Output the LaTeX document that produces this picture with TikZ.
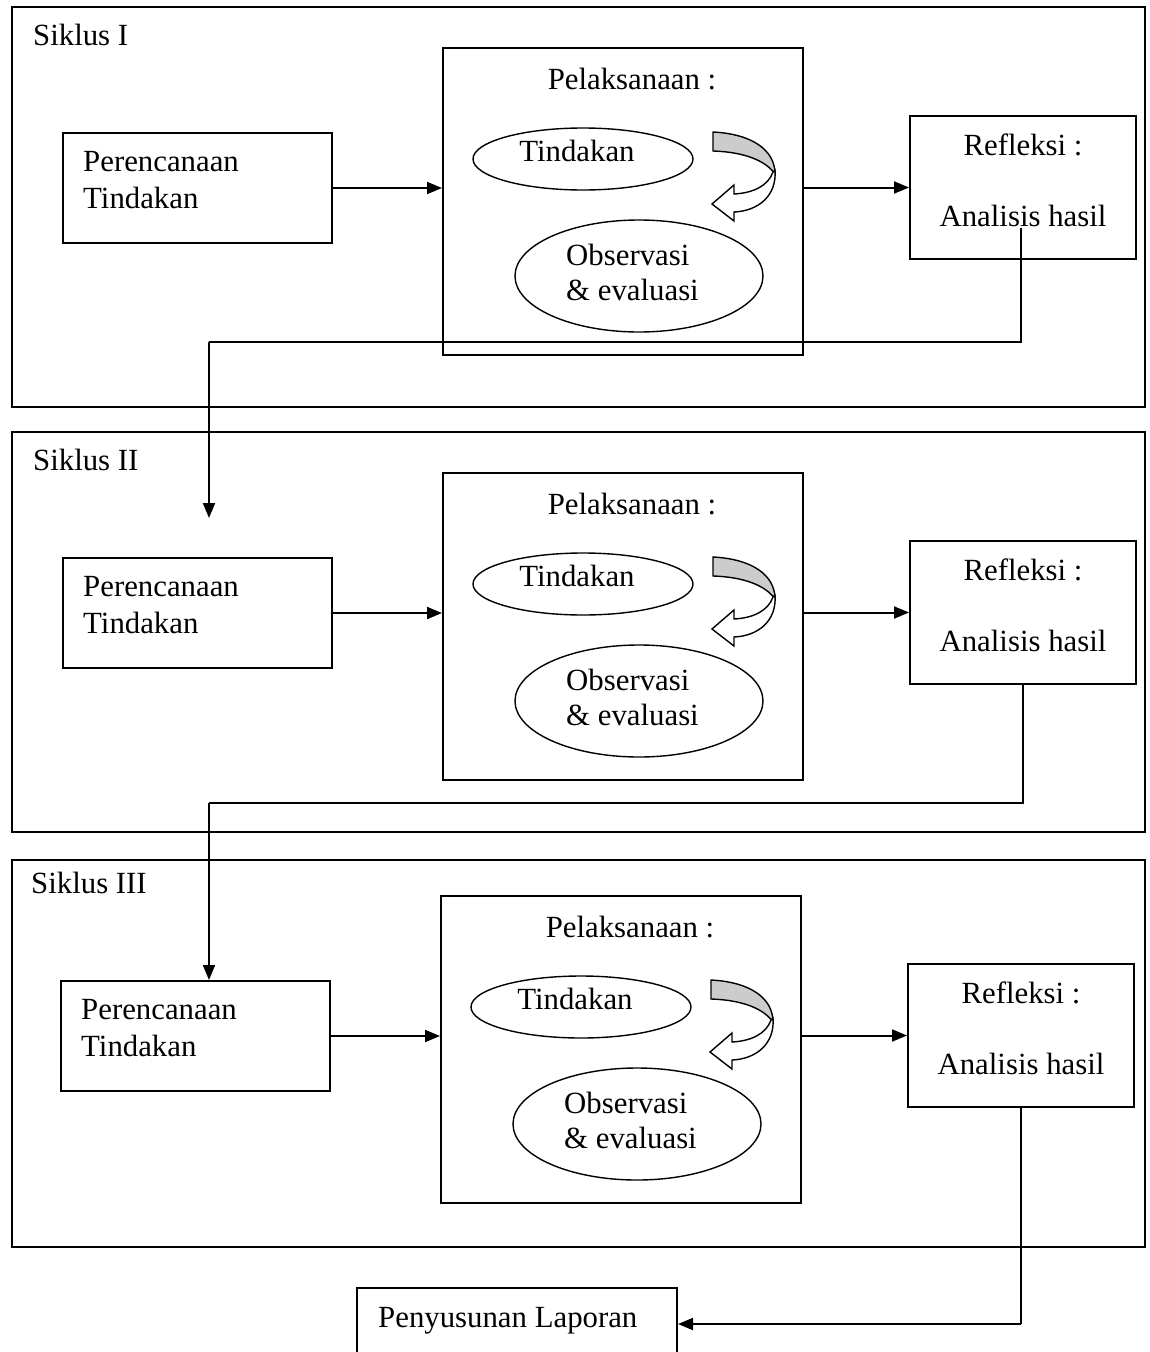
\documentclass[tikz,border=0pt]{standalone}
\usepackage{fontspec}
\setmainfont{Liberation Serif}
\usetikzlibrary{arrows.meta,shapes.geometric}
\tikzset{
  box/.style={draw, line width=2pt, rectangle, inner sep=0pt},
  oval/.style={draw, line width=1.4pt, ellipse, inner sep=0pt},
  txt/.style={inner sep=0pt, font=\fontsize{30.8}{36}\selectfont},
  arr/.style={line width=2pt, -{Triangle[length=15pt,width=12pt]}},
  conn/.style={line width=2pt},
}
\newcommand\mycycle[4]{% #1 suffix, #2 xshift, #3 yshift, #4 label
\begin{scope}[shift={(#2,#3)}]
  \node[txt, anchor=base west] (sik#1) at (33,45) {#4};
  \node[box, minimum width=269pt, minimum height=110pt] (per#1) at (197.5,188) {};
  \node[txt, anchor=base west] (pera#1) at (83,171) {Perencanaan};
  \node[txt, anchor=base west] (perb#1) at (83,208) {Tindakan};
  \node[box, minimum width=360pt, minimum height=307pt] (pel#1) at (623,201.5) {};
  \node[txt, anchor=base] (pelt#1) at (632,89) {Pelaksanaan :};
  \node[oval, minimum width=220pt, minimum height=62pt] (tin#1) at (583,159) {};
  \node[txt, anchor=base] (tint#1) at (577,161) {Tindakan};
  \node[oval, minimum width=248pt, minimum height=112pt] (obs#1) at (639,276) {};
  \node[txt, anchor=base west] (obsa#1) at (566,265) {Observasi};
  \node[txt, anchor=base west] (obsb#1) at (566,300) {\& evaluasi};
  \node[box, minimum width=226pt, minimum height=143pt] (ref#1) at (1023,187.5) {};
  \node[txt, anchor=base] (refa#1) at (1023,155) {Refleksi :};
  \node[txt, anchor=base] (refb#1) at (1023,226) {Analisis hasil};
  \draw[line width=1.4pt, fill=gray!40]
    (713,132) .. controls (752,134) and (775,150) .. (775,174)
    .. controls (766,161) and (745,152) .. (713,151) -- cycle;
  \draw[line width=1.4pt, fill=white]
    (775,170) .. controls (777,196) and (758,211) .. (734,212)
    -- (734,221) -- (712,204) -- (734,185) -- (734,194)
    .. controls (753,193) and (768,186) .. (773,172) -- cycle;
  \draw[arr] (per#1.east) -- (per#1.east -| pel#1.west);
  \draw[arr] (ref#1.west -| pel#1.east) -- (ref#1.west);
\end{scope}}
\begin{document}
\begin{tikzpicture}[x=1pt, y=-1pt]
  \useasboundingbox (0,0) rectangle (1150,1352);
  \fill[white] (0,0) rectangle (1150,1352);
  % outer frames
  \node[box, minimum width=1133pt, minimum height=400pt] (frame1) at (578.5,207) {};
  \node[box, minimum width=1133pt, minimum height=400pt] (frame2) at (578.5,632) {};
  \node[box, minimum width=1133pt, minimum height=387pt] (frame3) at (578.5,1053.5) {};
  \mycycle{1}{0}{0}{Siklus I}
  \mycycle{2}{0}{425}{Siklus II}
  \mycycle{3}{-2}{848}{Siklus III}
  % final box
  \begin{scope}
    \clip (0,0) rectangle (1150,1352);
    \node[box, minimum width=320pt, minimum height=110pt] (lap) at (517,1343) {};
  \end{scope}
  \node[txt, anchor=base west] (lapt) at (378,1327) {Penyusunan Laporan};
  % connectors between cycles
  \coordinate (s1) at (1021,228);
  \coordinate (b1) at (1021,342);
  \coordinate (c1) at (209,342);
  \coordinate (e1) at (209,518);
  \draw[conn] (s1) -- (b1) -- (c1);
  \draw[arr] (c1) -- (e1);
  \coordinate (b2) at (ref2.south |- 0,803);
  \coordinate (c2) at (209,803);
  \draw[conn] (ref2.south) -- (b2) -- (c2);
  \draw[arr] (c2) -- (per3.north -| c2);
  \coordinate (b3) at (ref3.south |- 0,1324);
  \draw[conn] (ref3.south) -- (b3);
  \draw[arr] (b3) -- (b3 -| lap.east);
\end{tikzpicture}
\end{document}
